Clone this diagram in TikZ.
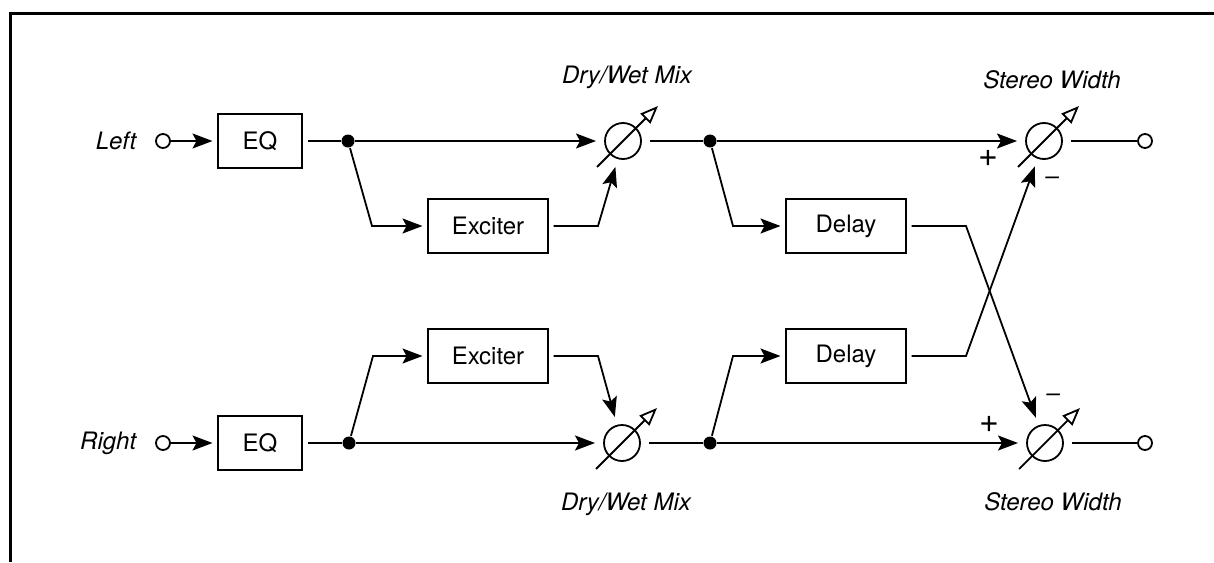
\documentclass[tikz,border=0pt]{standalone}
\usepackage{fontspec}
\setmainfont{TeX Gyre Heros}
\usetikzlibrary{arrows.meta,positioning}

\begin{document}
\begin{tikzpicture}[x=0.5pt, y=-0.5pt, >={Stealth[length=10pt,width=7.5pt,inset=2pt]},
	   line width=0.9pt, font=\fontsize{12}{14}\selectfont,
	   blk/.style={draw, minimum height=27pt, inner sep=0pt, outer sep=2.75pt},
	   mix/.style={draw, circle, minimum size=18pt, inner sep=0pt, outer sep=4.5pt},
	   dot/.style={circle, fill, minimum size=6.5pt, inner sep=0pt},
	   term/.style={draw, circle, fill=white, minimum size=7pt, inner sep=0pt},
	   lbl/.style={font=\fontsize{12}{14}\selectfont\itshape, inner sep=0pt},
	   sgn/.style={font=\fontsize{17}{18}\selectfont\itshape, inner sep=0pt}]
	  \useasboundingbox (0,0) rectangle (1214,562);
	  \draw[line width=1.5pt] (1214,13) -- (10,13) -- (10,562);
	  % left channel
	  \node[term] (inL) at (163,141) {};
	  \node[lbl, left=9pt of inL] (tL) {Left};
	  \node[blk, minimum width=42pt] (eqL) at (260,141) {EQ};
	  \node[dot] (jL1) at (348,141) {};
	  \node[blk, minimum width=60pt] (exL) at (488,226) {Exciter};
	  \node[mix] (dwL) at (623,141) {};
	  \node[lbl, above=12pt of dwL, xshift=2pt] (tdwL) {Dry/Wet Mix};
	  \node[dot] (jL2) at (710,141) {};
	  \node[blk, minimum width=60pt] (dlL) at (846,226) {Delay};
	  \node[mix] (swL) at (1044,141) {};
	  \node[lbl, above=12pt of swL, xshift=4pt] (tswL) {Stereo Width};
	  \node[term] (outL) at (1145,141) {};
	  \node[sgn] (pL) at ([shift={(-28pt,-8.5pt)}]swL.center) {+};
	  \node[lbl] (mL) at ([shift={(4pt,-20pt)}]swL.center) {–};
	  % right channel
	  \node[term] (inR) at (163,443) {};
	  \node[lbl, left=9pt of inR] (tR) {Right};
	  \node[blk, minimum width=42pt] (eqR) at (260,443) {EQ};
	  \node[dot] (jR1) at (349,443) {};
	  \node[blk, minimum width=60pt] (exR) at (488,356) {Exciter};
	  \node[mix] (dwR) at (622,443) {};
	  \node[lbl, below=11pt of dwR, xshift=2pt] (tdwR) {Dry/Wet Mix};
	  \node[dot] (jR2) at (710,443) {};
	  \node[blk, minimum width=60pt] (dlR) at (846,356) {Delay};
	  \node[mix] (swR) at (1045,443) {};
	  \node[lbl, below=11pt of swR, xshift=4pt] (tswR) {Stereo Width};
	  \node[term] (outR) at (1145,443) {};
	  \node[sgn] (pR) at ([shift={(-28pt,9.5pt)}]swR.center) {+};
	  \node[lbl] (mR) at ([shift={(4pt,22.5pt)}]swR.center) {–};
	  % mixer arrows
	  \foreach \m in {dwL,dwR,swL,swR}
	    \draw[-{Triangle[open,length=9pt,width=7pt]}] ([shift={(-13pt,-13pt)}]\m.center) -- ([shift={(17.5pt,17.5pt)}]\m.center);
	  % connections
	  \draw[->] (inL) -- (eqL); \draw (eqL) -- (jL1);
	  \draw[->] (jL1) -- (dwL);
	  \draw[->] (jL1) -- (372,226) -- (exL);
	  \draw[->] (exL) -- (598,226) -- (dwL);
	  \draw (dwL) -- (jL2); \draw[->] (jL2) -- (swL);
	  \draw[->] (jL2) -- (733,226) -- (dlL);
	  \draw[->] (dlL) -- (966,226) -- (swR);
	  \draw (swL) -- (outL);
	  \draw[->] (inR) -- (eqR); \draw (eqR) -- (jR1);
	  \draw[->] (jR1) -- (dwR);
	  \draw[->] (jR1) -- (373,356) -- (exR);
	  \draw[->] (exR) -- (598,356) -- (dwR);
	  \draw (dwR) -- (jR2); \draw[->] (jR2) -- (swR);
	  \draw[->] (jR2) -- (733,356) -- (dlR);
	  \draw[->] (dlR) -- (966,356) -- (swL);
	  \draw (swR) -- (outR);
	\end{tikzpicture}
\end{document}
